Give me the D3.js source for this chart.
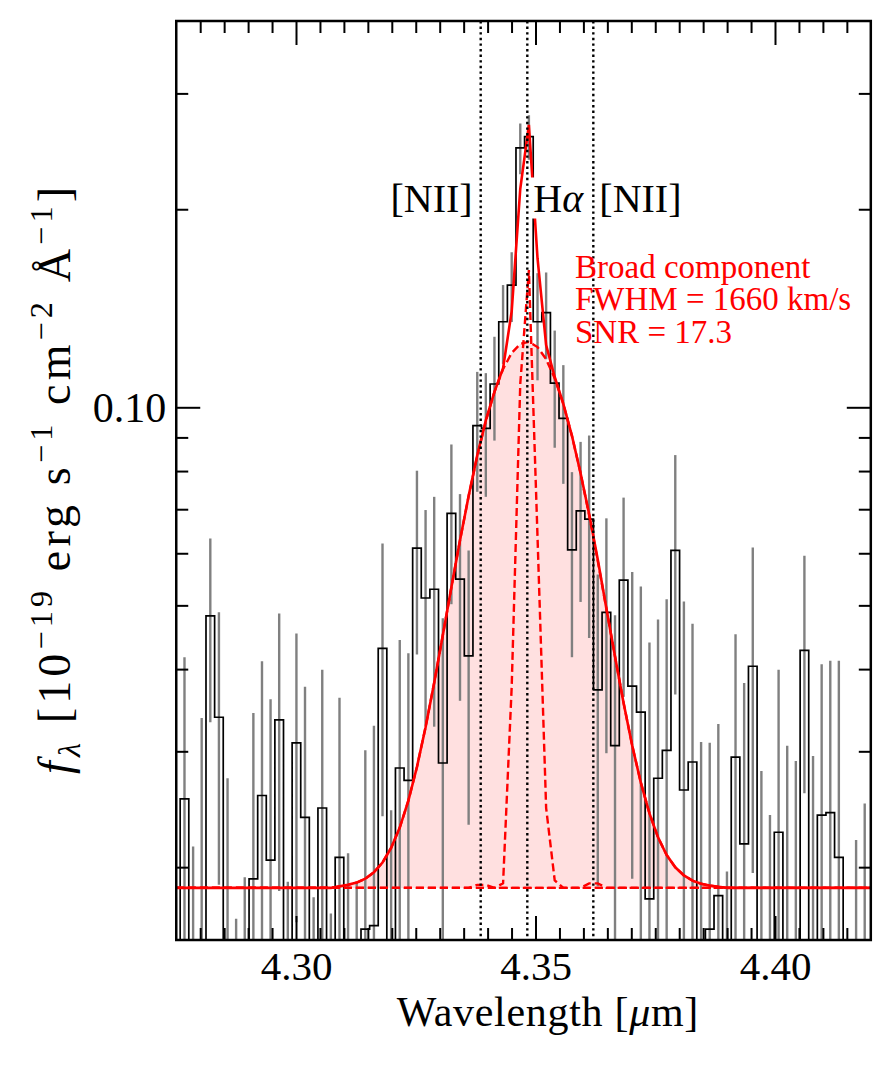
<!DOCTYPE html>
<html><head><meta charset="utf-8">
<script src="https://cdn.jsdelivr.net/npm/d3@7"></script>
<style>body{margin:0;background:#fff} svg{display:block} text{font-family:'Liberation Serif','Times New Roman',Times,serif}</style>
</head><body>
<svg id="chart" width="891" height="1069"></svg>
<script>
// ---------------- data ----------------
const wavelengths = [4.27492, 4.27672, 4.27852, 4.28031, 4.28211, 4.28391, 4.28571, 4.28750, 4.28930, 4.29110,
4.29290, 4.29469, 4.29649, 4.29829, 4.30009, 4.30188, 4.30368, 4.30548, 4.30728, 4.30908,
4.31087, 4.31267, 4.31447, 4.31627, 4.31806, 4.31986, 4.32166, 4.32346, 4.32525, 4.32705,
4.32885, 4.33065, 4.33244, 4.33424, 4.33604, 4.33784, 4.33963, 4.34143, 4.34323, 4.34503,
4.34682, 4.34862, 4.35042, 4.35222, 4.35401, 4.35581, 4.35761, 4.35941, 4.36120, 4.36300,
4.36480, 4.36660, 4.36839, 4.37019, 4.37199, 4.37379, 4.37558, 4.37738, 4.37918, 4.38098,
4.38278, 4.38457, 4.38637, 4.38817, 4.38997, 4.39176, 4.39356, 4.39536, 4.39716, 4.39895,
4.40075, 4.40255, 4.40435, 4.40614, 4.40794, 4.40974, 4.41154, 4.41333, 4.41513, 4.41693,
4.41873, 4.42052];

const flux = [0.006, 0.0254, 0.006, 0.012, 0.0482, 0.0338, 0.012, 0.002, 0.004, 0.0192,
0.0257, 0.0205, 0.0335, 0.006, 0.0309, 0.0238, 0.006, 0.0246, 0.005, 0.0207,
0.006, 0.005, 0.0161, 0.0163, 0.0430, 0.008, 0.0283, 0.0271, 0.0611, 0.0513,
0.0529, 0.0288, 0.0690, 0.0548, 0.0419, 0.0938, 0.0929, 0.1085, 0.1349, 0.1534,
0.2480, 0.2578, 0.1349, 0.1393, 0.1088, 0.0962, 0.0607, 0.0696, 0.0676, 0.0372,
0.0488, 0.0306, 0.0546, 0.0377, 0.0344, 0.0179, 0.0273, 0.0301, 0.0606, 0.0262,
0.0289, 0.012, 0.0161, 0.0181, 0.004, 0.0294, 0.0217, 0.0404, 0.010, 0.006,
0.0226, 0.012, 0.011, 0.0427, 0.011, 0.0240, 0.0242, 0.0207, 0.003, 0.005,
0.008, 0.004];

const fluxErr = [0.012, 0.0163, 0.0155, 0.0217, 0.015, 0.015, 0.0153, 0.0147, 0.0153, 0.0151,
0.0154, 0.0155, 0.0151, 0.013, 0.0144, 0.0138, 0.012, 0.0153, 0.012, 0.0155,
0.015, 0.014, 0.014, 0.0165, 0.0191, 0.0164, 0.016, 0.0152, 0.019, 0.0185,
0.0202, 0.019, 0.0188, 0.019, 0.0187, 0.0194, 0.0198, 0.0195, 0.0185, 0.0186,
0.022, 0.020, 0.025, 0.021, 0.022, 0.0197, 0.019, 0.019, 0.023, 0.0185,
0.019, 0.0177, 0.0183, 0.0185, 0.019, 0.026, 0.0203, 0.021, 0.024, 0.0245,
0.018, 0.019, 0.0148, 0.0149, 0.0157, 0.0158, 0.0164, 0.0208, 0.018, 0.018,
0.0173, 0.0186, 0.018, 0.0168, 0.0185, 0.0167, 0.017, 0.0205, 0.012, 0.017,
0.017, 0.012];

const continuumLevel = 0.0186;

const broadComp = [0, 0, 0, 0, 0, 0, 0, 0, 0, 0,
0, 0, 0, 0, 0, 0, 0, 0, 0, 0.0001,
0.0002, 0.00035, 0.00061, 0.00105, 0.00173, 0.00279, 0.00437, 0.00664, 0.00980, 0.01404,
0.01955, 0.02642, 0.03467, 0.04418, 0.05469, 0.06573, 0.07673, 0.08697, 0.09574, 0.10235,
0.10625, 0.10712, 0.10488, 0.09972, 0.09208, 0.08257, 0.07190, 0.06080, 0.04993, 0.03982,
0.03084, 0.02320, 0.01694, 0.01201, 0.00828, 0.00554, 0.00360, 0.00227, 0.00139, 0.00083,
0.00048, 0.00027, 0.00015, 0.00008, 0, 0, 0, 0, 0, 0,
0, 0, 0, 0, 0, 0, 0, 0, 0, 0,
0, 0];

const narrowComp = [0, 0, 0, 0, 0, 0, 0, 0, 0, 0,
0, 0, 0, 0, 0, 0, 0, 0, 0, 0,
0, 0, 0, 0, 0, 0, 0, 0, 0, 0,
0, 0, 0, 0, 0, 0, 0, 0, 0.0003, 0.019,
0.090, 0.143, 0.045, 0.006, 0.0005, 0, 0, 0, 0, 0,
0, 0, 0, 0, 0, 0, 0, 0, 0, 0,
0, 0, 0, 0, 0, 0, 0, 0, 0, 0,
0, 0, 0, 0, 0, 0, 0, 0, 0, 0,
0, 0];

const nii6548Comp = [0, 0, 0, 0, 0, 0, 0, 0, 0, 0,
0, 0, 0, 0, 0, 0, 0, 0, 0, 0,
0, 0, 0, 0, 0, 0, 0, 0, 0, 0,
0, 0, 0, 0, 0, 0.0002, 0.0002, 0, 0, 0,
0, 0, 0, 0, 0, 0, 0, 0, 0, 0,
0, 0, 0, 0, 0, 0, 0, 0, 0, 0,
0, 0, 0, 0, 0, 0, 0, 0, 0, 0,
0, 0, 0, 0, 0, 0, 0, 0, 0, 0,
0, 0];

const nii6584Comp = [0, 0, 0, 0, 0, 0, 0, 0, 0, 0,
0, 0, 0, 0, 0, 0, 0, 0, 0, 0,
0, 0, 0, 0, 0, 0, 0, 0, 0, 0,
0, 0, 0, 0, 0, 0, 0, 0, 0, 0,
0, 0, 0, 0, 0, 0, 0, 0, 0.0003, 0.0003,
0, 0, 0, 0, 0, 0, 0, 0, 0, 0,
0, 0, 0, 0, 0, 0, 0, 0, 0, 0,
0, 0, 0, 0, 0, 0, 0, 0, 0, 0,
0, 0];

const lineMarkers = [4.33856, 4.34829, 4.36207];
const xMajorTicks = [4.30, 4.35, 4.40];
const xMinorTicks = [4.28, 4.285, 4.29, 4.295, 4.305, 4.31, 4.315, 4.32, 4.325, 4.33, 4.335, 4.34, 4.345,
  4.355, 4.36, 4.365, 4.37, 4.375, 4.38, 4.385, 4.39, 4.395, 4.405, 4.41, 4.415];
const yMajorTicks = [0.10];
const yMinorTicks = [0.02, 0.03, 0.04, 0.05, 0.06, 0.07, 0.08, 0.09, 0.2, 0.3];
const annotationLines = ["Broad component", "FWHM = 1660 km/s", "SNR = 17.3"];

// ---------------- layout ----------------
const FONT = "'Liberation Serif','Times New Roman',Times,serif";
const L = 176.25, R = 870.8, T = 21, B = 940;
const svg = d3.select('#chart');
const x = d3.scaleLinear().domain([4.275, 4.42]).range([L, R]);
const y = d3.scaleLog().domain([0.0155, 0.3865]).range([B, T]);

svg.append('defs').append('clipPath').attr('id', 'clip')
  .append('rect').attr('x', L).attr('y', T).attr('width', R - L).attr('height', B - T);

const plot = svg.append('g').attr('clip-path', 'url(#clip)');
const idx = d3.range(wavelengths.length);
const clampY = v => y(Math.max(v, 0.004));

// broad component shaded area
plot.append('path')
  .datum(idx)
  .attr('fill', 'rgba(255,0,0,0.12)')
  .attr('d', d3.area()
    .x(i => x(wavelengths[i]))
    .y0(() => y(continuumLevel))
    .y1(i => y(continuumLevel + broadComp[i])));

// error bars
plot.append('g').selectAll('line').data(idx).join('line')
  .attr('x1', i => x(wavelengths[i])).attr('x2', i => x(wavelengths[i]))
  .attr('y1', i => clampY(flux[i] - fluxErr[i]))
  .attr('y2', i => clampY(flux[i] + fluxErr[i]))
  .attr('stroke', '#808080').attr('stroke-width', 2.4);

// spectrum step
plot.append('path').datum(idx)
  .attr('fill', 'none').attr('stroke', '#000').attr('stroke-width', 1.7)
  .attr('d', d3.line().curve(d3.curveStep).x(i => x(wavelengths[i])).y(i => clampY(flux[i])));

// dotted line markers
svg.append('g').selectAll('line').data(lineMarkers).join('line')
  .attr('x1', d => x(d)).attr('x2', d => x(d)).attr('y1', T).attr('y2', B)
  .attr('stroke', '#000').attr('stroke-width', 2.4).attr('stroke-dasharray', '2.4,3.2');

// model components (dashed)
const comps = [broadComp, narrowComp, nii6548Comp, nii6584Comp];
comps.forEach(c => {
  plot.append('path').datum(idx)
    .attr('fill', 'none').attr('stroke', '#ff0000').attr('stroke-width', 2.4)
    .attr('stroke-dasharray', '8,4')
    .attr('d', d3.line().x(i => x(wavelengths[i])).y(i => y(continuumLevel + c[i])));
});
// total model (solid)
plot.append('path').datum(idx)
  .attr('fill', 'none').attr('stroke', '#ff0000').attr('stroke-width', 2.6)
  .attr('d', d3.line().x(i => x(wavelengths[i]))
    .y(i => y(continuumLevel + broadComp[i] + narrowComp[i] + nii6548Comp[i] + nii6584Comp[i])));

// ---------------- axes ----------------
function styleAxis(g) {
  g.attr('font-family', FONT);
  g.select('.domain').remove();
  g.selectAll('.tick line').attr('stroke-width', 2);
  g.selectAll('text').style('font-family', FONT).attr('fill', '#000');
}
svg.append('g').attr('transform', `translate(0,${B})`)
  .call(d3.axisBottom(x).tickValues(xMinorTicks).tickSize(-12).tickFormat(''))
  .call(styleAxis);
const bx = svg.append('g').attr('transform', `translate(0,${B})`)
  .call(d3.axisBottom(x).tickValues(xMajorTicks).tickSize(-24).tickFormat(d3.format('.2f')))
  .call(styleAxis);
bx.selectAll('text').attr('y', 40).attr('dy', 0).attr('font-size', 41);
svg.append('g').attr('transform', `translate(0,${T})`)
  .call(d3.axisTop(x).tickValues(xMinorTicks).tickSize(-12).tickFormat('')).call(styleAxis);
svg.append('g').attr('transform', `translate(0,${T})`)
  .call(d3.axisTop(x).tickValues(xMajorTicks).tickSize(-24).tickFormat('')).call(styleAxis);

svg.append('g').attr('transform', `translate(${L},0)`)
  .call(d3.axisLeft(y).tickValues(yMinorTicks).tickSize(-12).tickFormat('')).call(styleAxis);
const ly = svg.append('g').attr('transform', `translate(${L},0)`)
  .call(d3.axisLeft(y).tickValues(yMajorTicks).tickSize(-24).tickPadding(10).tickFormat(d3.format('.2f')))
  .call(styleAxis);
ly.selectAll('text').attr('font-size', 42).attr('dy', '0.34em');
svg.append('g').attr('transform', `translate(${R},0)`)
  .call(d3.axisRight(y).tickValues(yMinorTicks).tickSize(-12).tickFormat('')).call(styleAxis);
svg.append('g').attr('transform', `translate(${R},0)`)
  .call(d3.axisRight(y).tickValues(yMajorTicks).tickSize(-24).tickFormat('')).call(styleAxis);

svg.append('rect').attr('x', L).attr('y', T).attr('width', R - L).attr('height', B - T)
  .attr('fill', 'none').attr('stroke', '#000').attr('stroke-width', 2.5);

// ---------------- text ----------------
function richText(sel, parts, F) {
  let shift = 0;
  parts.forEach(p => {
    const target = p.s === 'sup' ? -0.4 * F : p.s === 'sub' ? 0.22 * F : 0;
    const ts = sel.append('tspan').text(p.t).attr('dy', target - shift);
    if (p.s) ts.attr('font-size', 0.7 * F);
    if (p.i) ts.attr('font-style', 'italic');
    shift = target;
  });
}

// x label
const xl = svg.append('text').attr('x', 396.7).attr('y', 1026)
  .attr('font-family', FONT).attr('font-size', 42)
  .attr('textLength', 301.6).attr('lengthAdjust', 'spacing');
richText(xl, [{t: 'Wavelength ['}, {t: 'μ', i: true}, {t: 'm]'}], 42);

// y label
const yl = svg.append('text')
  .attr('transform', 'translate(70,480.5) rotate(-90)')
  .attr('text-anchor', 'middle')
  .attr('font-family', FONT).attr('font-size', 46)
  .attr('textLength', 587).attr('lengthAdjust', 'spacing');
richText(yl, [
  {t: 'f', i: true}, {t: 'λ', i: true, s: 'sub'}, {t: ' [10'}, {t: '−19', s: 'sup'},
  {t: ' erg s'}, {t: '−1', s: 'sup'}, {t: ' cm'}, {t: '−2', s: 'sup'},
  {t: ' Å'}, {t: '−1', s: 'sup'}, {t: ']'}], 46);

// line labels with white boxes
function boxedLabel(xp, yp, anchor, parts) {
  const g = svg.append('g');
  const t = g.append('text').attr('x', xp).attr('y', yp).attr('text-anchor', anchor)
    .attr('font-family', FONT).attr('font-size', 40).attr('fill', '#000');
  richText(t, parts, 40);
  const bb = t.node().getBBox();
  g.insert('rect', 'text').attr('x', bb.x - 3).attr('y', bb.y + 2)
    .attr('width', bb.width + 6).attr('height', bb.height - 4).attr('fill', '#fff');
}
boxedLabel(x(lineMarkers[0]) - 8, 211.5, 'end', [{t: '[NII]'}]);
boxedLabel(x(lineMarkers[1]) + 6, 211.5, 'start', [{t: 'H'}, {t: 'α', i: true}]);
boxedLabel(x(lineMarkers[2]) + 6, 211.5, 'start', [{t: '[NII]'}]);

// red annotation
svg.append('g').selectAll('text').data(annotationLines).join('text')
  .attr('x', 575).attr('y', (d, i) => 277.5 + i * 32.5)
  .attr('font-family', FONT).attr('font-size', 33).attr('fill', '#ff0000')
  .text(d => d);
</script>
</body></html>
